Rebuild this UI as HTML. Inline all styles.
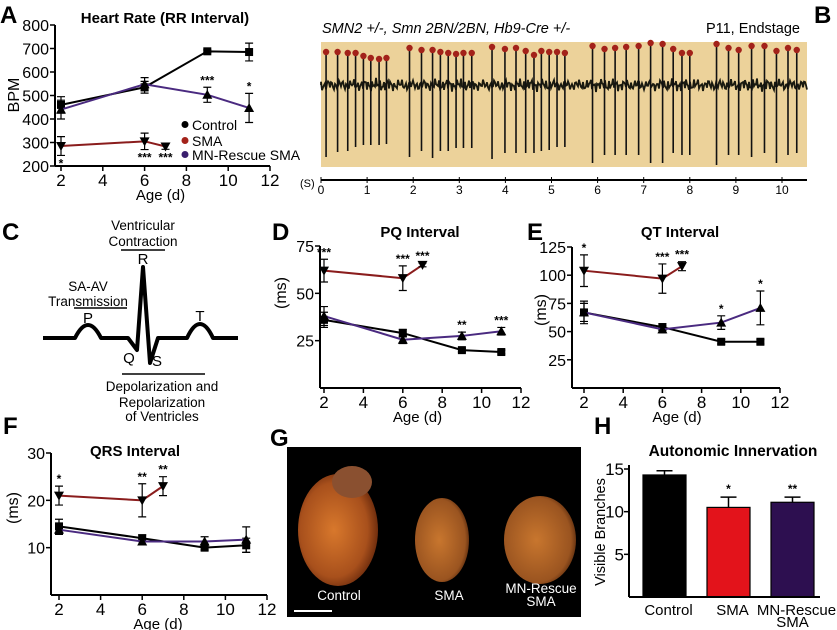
<!DOCTYPE html>
<html><head><meta charset="utf-8"><style>
html,body{margin:0;padding:0;background:#fff;}
svg{display:block;font-family:"Liberation Sans",Arial,sans-serif;}
</style></head><body>
<svg id="fig" width="837" height="630" viewBox="0 0 837 630" xmlns="http://www.w3.org/2000/svg">
<g font-weight="bold" font-size="24">
<text x="0" y="23">A</text>
<text x="814" y="23">B</text>
<text x="2" y="240">C</text>
<text x="272" y="240">D</text>
<text x="527" y="240">E</text>
<text x="3" y="434">F</text>
<text x="270" y="446">G</text>
<text x="594" y="434">H</text>
</g>
<g id="panelB">
<text x="322" y="33" font-size="14.5" font-style="italic">SMN2 +/-, Smn 2BN/2BN, Hb9-Cre +/-</text>
<text x="800" y="33" font-size="14.5" text-anchor="end">P11, Endstage</text>
<rect x="321" y="42" width="486" height="125" fill="#ecd29a"/>
</g>
<g font-size="13.5" text-anchor="middle">
<path d="M43 338 L75 338 Q88 312 101 338 L128 338 L137 350 L143 267 L150 363 L158 338 L187 338 Q200 310 213 338 L238 338" fill="none" stroke="#000" stroke-width="4" stroke-linejoin="round"/>
<text x="143" y="230">Ventricular</text>
<text x="143" y="246">Contraction</text>
<line x1="121" y1="250" x2="165" y2="250" stroke="#000" stroke-width="1.5"/>
<text x="143" y="264" font-size="15">R</text>
<text x="88" y="291">SA-AV</text>
<text x="88" y="306">Transmission</text>
<line x1="74" y1="308" x2="127" y2="308" stroke="#000" stroke-width="1.5"/>
<text x="88" y="323" font-size="15">P</text>
<text x="200" y="321" font-size="15">T</text>
<text x="129" y="363" font-size="15">Q</text>
<text x="157" y="366" font-size="15">S</text>
<line x1="122" y1="374" x2="205" y2="374" stroke="#000" stroke-width="1.5"/>
<text x="162" y="391">Depolarization and</text>
<text x="162" y="407">Repolarization</text>
<text x="162" y="421">of Ventricles</text>
</g>
<defs>
<radialGradient id="heart" cx="0.45" cy="0.5" r="0.6"><stop offset="0" stop-color="#d8782c"/><stop offset="0.7" stop-color="#a8501c"/><stop offset="1" stop-color="#5a2008"/></radialGradient>
<radialGradient id="heart2" cx="0.45" cy="0.5" r="0.6"><stop offset="0" stop-color="#c8762e"/><stop offset="0.8" stop-color="#9a5420"/><stop offset="1" stop-color="#4a2008"/></radialGradient>
</defs>
<g>
<rect x="287" y="447" width="294" height="170" fill="#000"/>
<ellipse cx="338" cy="530" rx="40" ry="56" fill="url(#heart)"/>
<ellipse cx="352" cy="482" rx="20" ry="16" fill="#8a5030"/>
<ellipse cx="442" cy="540" rx="27" ry="42" fill="url(#heart2)"/>
<ellipse cx="540" cy="540" rx="36" ry="44" fill="url(#heart2)"/>
<g fill="#fff" font-size="13.5" text-anchor="middle">
<text x="339" y="600">Control</text>
<text x="449" y="600">SMA</text>
<text x="541" y="593">MN-Rescue</text>
<text x="541" y="606">SMA</text>
</g>
<line x1="294" y1="611" x2="332" y2="611" stroke="#fff" stroke-width="2"/>
</g>
</svg>
<script>
// ===== Panel B data =====
const ecgPeakTimes=[0.11,0.36,0.58,0.75,0.92,1.08,1.26,1.42,1.92,2.18,2.42,2.59,2.76,2.93,3.09,3.27,3.71,3.99,4.23,4.44,4.62,4.78,4.95,5.12,5.29,5.89,6.15,6.38,6.62,6.89,7.15,7.41,7.64,7.83,8.00,8.58,8.84,9.06,9.34,9.62,9.88,10.13,10.32];
const ecgPeakAmps=[33,33,32,32,29,27,26,27,37,35,35,33,32,31,32,32,38,36,37,34,30,34,33,33,32,39,36,37,38,39,42,41,36,32,32,41,37,35,39,39,34,37,35];
const ecgTroughAmps=[-72,-67,-66,-62,-60,-60,-60,-59,-72,-66,-73,-66,-66,-63,-63,-63,-74,-68,-68,-68,-68,-66,-65,-62,-62,-78,-70,-70,-70,-70,-78,-78,-68,-70,-70,-80,-70,-70,-72,-68,-78,-70,-68];
const ecgTimeTicks=[0,1,2,3,4,5,6,7,8,9,10];

// ===== Panel A data =====
const ages=[2,6,9,11];
const smaAges=[2,6,7];
const hrControl=[460,535,688,685], hrControlErr=[35,25,6,38];
const hrRescue=[440,548,503,447], hrRescueErr=[40,28,32,62];
const hrSMA=[285,305,283], hrSMAErr=[40,35,12];
const hrTicks=[200,300,400,500,600,700,800];
// ===== Panel D data =====
const pqControl=[36,29,20,19], pqControlErr=[4,2,1,1];
const pqRescue=[38,25.5,27.5,30], pqRescueErr=[5,2,2,2];
const pqSMA=[62,58,65], pqSMAErr=[6,6.5,1];
const pqTicks=[25,50,75];
// ===== Panel E data =====
const qtControl=[67,54,41,41], qtControlErr=[8,3,2,2];
const qtRescue=[67,52,58,71], qtRescueErr=[10,3,6,15];
const qtSMA=[104,97,108], qtSMAErr=[14,13,4];
const qtTicks=[25,50,75,100,125];
// ===== Panel F data =====
const qrsControl=[14.5,12,10,10.5], qrsControlErr=[1.5,0.7,0.5,1.5];
const qrsRescue=[13.8,11.3,11.3,11.7], qrsRescueErr=[1,0.6,1,2.7];
const qrsSMA=[21,20,23], qrsSMAErr=[2,3.5,2];
const qrsTicks=[10,20,30];
const ageTicks=[2,4,6,8,10,12];
// ===== Panel H data =====
const innervCats=["Control","SMA","MN-Rescue SMA"];
const innervVals=[14.3,10.5,11.1];
const innervErr=[0.5,1.2,0.6];
const innervStars=["","*","**"];
const innervTicks=[5,10,15];

const NS="http://www.w3.org/2000/svg";
const svg=document.getElementById('fig');
function mk(tag,attrs,parent,txt){const e=document.createElementNS(NS,tag);for(const k in attrs)e.setAttribute(k,attrs[k]);if(txt!==undefined)e.textContent=txt;(parent||svg).appendChild(e);return e;}

(function(){
  const g=document.getElementById('panelB');
  const x0=321, pxPerS=46.1, base=85;
  const xs=t=>x0+t*pxPerS;
  const ys=a=>base-a;
  let d="M321 "+base;
  for(let x=321;x<=807;x+=1){
    const w=Math.sin(x*1.7)*3.2+Math.sin(x*0.53)*1.8+Math.cos(x*3.1)*2.2;
    d+=" L"+x.toFixed(1)+" "+(base+w).toFixed(1);
  }
  const noise=mk('path',{d:d,fill:'none',stroke:'#1a1a10','stroke-width':'1.8'},g);
  
  
  ecgPeakTimes.forEach((t,i)=>{
    const sp=mk('path',{d:`M${xs(t)} ${ys(ecgPeakAmps[i])} L${xs(t)} ${ys(ecgTroughAmps[i])}`,stroke:'#111','stroke-width':'1.6'},g);
    
    
    const c=mk('circle',{cx:xs(t),cy:ys(ecgPeakAmps[i]),r:3.2,fill:'#a3221a'},g);
    
    
  });
  const ax=mk('line',{x1:321,y1:180,x2:807,y2:180,stroke:'#000','stroke-width':2},g);
  
  
  ecgTimeTicks.forEach(t=>{
    mk('line',{x1:xs(t),y1:177,x2:xs(t),y2:183,stroke:'#000','stroke-width':1},g);
    const l=mk('text',{x:xs(t),y:194,'font-size':12,'text-anchor':'middle'},g,String(t));
    
    
  });
  const u=mk('text',{x:300,y:187,'font-size':11},g,"(S)");
  
  
})();

function lineChart(c){
  const g=mk('g',{});
  
  
  const xs=v=>c.x2+(v-2)*(c.x12-c.x2)/10;
  const ys=v=>c.yBot-(v-c.yMin)*(c.yBot-c.yTop)/(c.yMax-c.yMin);
  const t=mk('text',{x:c.titleX,y:c.titleY,'font-size':15,'font-weight':'bold','text-anchor':'middle'},g,c.title);
  
  
  const ya=mk('line',{x1:c.ax,y1:ys(c.yMax),x2:c.ax,y2:c.yBot,stroke:'#000','stroke-width':2},g);
  
  
  const xa=mk('line',{x1:c.ax,y1:c.yBot,x2:xs(12),y2:c.yBot,stroke:'#000','stroke-width':2},g);
  
  
  c.yTicks.forEach(v=>{
    mk('line',{x1:c.ax-5,y1:ys(v),x2:c.ax,y2:ys(v),stroke:'#000','stroke-width':1.5},g);
    const l=mk('text',{x:c.ax-6,y:ys(v)+6,'font-size':16,'text-anchor':'end'},g,String(v));
    
    
  });
  ageTicks.forEach(v=>{
    mk('line',{x1:xs(v),y1:c.yBot,x2:xs(v),y2:c.yBot+5,stroke:'#000','stroke-width':1.5},g);
    const l=mk('text',{x:xs(v),y:c.yBot+20,'font-size':17,'text-anchor':'middle'},g,String(v));
    
    
  });
  if(c.xLabel){const l=mk('text',{x:(c.x2+c.x12)/2-5,y:c.yBot+34,'font-size':15,'text-anchor':'middle'},g,"Age (d)");
    
    }
  const yl=mk('text',{x:0,y:0,'font-size':16,'text-anchor':'middle',transform:`translate(${c.ylx},${c.yly}) rotate(-90)`},g,c.yLabel);
  
  
  function series(xv,vals,errs,col,marker,nm,stars,starAbove){
    const p=mk('polyline',{points:xv.map((x,i)=>xs(x)+","+ys(vals[i])).join(" "),fill:'none',stroke:col,'stroke-width':2},g);
    
    
    xv.forEach((x,i)=>{
      const X=xs(x),Y=ys(vals[i]),t=ys(vals[i]+errs[i]),b=ys(vals[i]-errs[i]);
      const e=mk('path',{d:`M${X} ${t} L${X} ${b} M${X-4} ${t} L${X+4} ${t} M${X-4} ${b} L${X+4} ${b}`,stroke:'#000','stroke-width':1.2},g);
      
      
      let m;
      if(marker==='sq') m=mk('rect',{x:X-4,y:Y-4,width:8,height:8,fill:'#000'},g);
      else if(marker==='up') m=mk('path',{d:`M${X} ${Y-5} L${X+5} ${Y+4} L${X-5} ${Y+4}Z`,fill:'#000'},g);
      else m=mk('path',{d:`M${X} ${Y+5} L${X+5} ${Y-4} L${X-5} ${Y-4}Z`,fill:'#000'},g);
      
      
      if(stars&&stars[i]){
        const sy=starAbove&&starAbove[i]===0?b+12:t-3;
        const s=mk('text',{x:X,y:sy,'font-size':12,'font-weight':'bold','text-anchor':'middle'},g,stars[i]);
        
        
      }
    });
  }
  series(ages,c.ctl,c.ctlE,'#000','sq','control');
  series(ages,c.res,c.resE,'#4a2a80','up','mn-rescue',c.resStars);
  series(smaAges,c.sma,c.smaE,'#8a1c1c','down','sma',c.smaStars,c.smaPos);
  return g;
}
lineChart({name:'heart-rate-chart',title:'Heart Rate (RR Interval)',titleX:165,titleY:23,ax:55,x2:61,x12:270,yTop:25,yBot:166,yMin:200,yMax:800,yTicks:hrTicks,yLabel:'BPM',ylx:19,yly:95,xLabel:true,
  ctl:hrControl,ctlE:hrControlErr,res:hrRescue,resE:hrRescueErr,sma:hrSMA,smaE:hrSMAErr,resStars:["","","***","*"],smaStars:["*","***","***"],smaPos:[0,0,0]});
lineChart({name:'pq-interval-chart',title:'PQ Interval',titleX:420,titleY:237,ax:320,x2:324,x12:521,yTop:246,yBot:388,yMin:0,yMax:75,yTicks:pqTicks,yLabel:'(ms)',ylx:286,yly:293,xLabel:true,
  ctl:pqControl,ctlE:pqControlErr,res:pqRescue,resE:pqRescueErr,sma:pqSMA,smaE:pqSMAErr,resStars:["","","**","***"],smaStars:["***","***","***"]});
lineChart({name:'qt-interval-chart',title:'QT Interval',titleX:680,titleY:237,ax:572,x2:584,x12:780,yTop:247,yBot:388,yMin:0,yMax:125,yTicks:qtTicks,yLabel:'(ms)',ylx:546,yly:310,xLabel:true,
  ctl:qtControl,ctlE:qtControlErr,res:qtRescue,resE:qtRescueErr,sma:qtSMA,smaE:qtSMAErr,resStars:["","","*","*"],smaStars:["*","***","***"]});
lineChart({name:'qrs-interval-chart',title:'QRS Interval',titleX:135,titleY:456,ax:51,x2:59,x12:267,yTop:453,yBot:595,yMin:0,yMax:30,yTicks:qrsTicks,yLabel:'(ms)',ylx:18,yly:508,xLabel:true,
  ctl:qrsControl,ctlE:qrsControlErr,res:qrsRescue,resE:qrsRescueErr,sma:qrsSMA,smaE:qrsSMAErr,smaStars:["*","**","**"]});

[["Control","#000",129],["SMA","#a3221a",145],["MN-Rescue SMA","#3a1f6e",159]].forEach(r=>{
  const c=mk('circle',{cx:185,cy:r[2]-4.5,r:3.5,fill:r[1]});
  
  
  const t=mk('text',{x:192,y:r[2]+1,'font-size':14},svg,r[0]);
  
  
});

(function(){
  const g=mk('g',{});
  
  
  const ax=629,yBot=597,yTop=469;
  const ys=v=>yBot-v*(yBot-yTop)/15;
  const barW=43,x0=643,step=64;
  const cols=['#000','#e3131b','#2d0f50'];
  const t=mk('text',{x:733,y:456,'font-size':15.5,'font-weight':'bold','text-anchor':'middle'},g,'Autonomic Innervation');
  
  
  innervCats.forEach((c,i)=>{
    const x=x0+i*step;
    const b=mk('rect',{x:x,y:ys(innervVals[i]),width:barW,height:yBot-ys(innervVals[i]),fill:cols[i],stroke:'#000','stroke-width':1.2},g);
    
    
    const cx=x+barW/2,et=ys(innervVals[i]+innervErr[i]);
    mk('path',{d:`M${cx} ${ys(innervVals[i])} L${cx} ${et} M${cx-8} ${et} L${cx+8} ${et}`,stroke:'#000','stroke-width':1.5},g);
    if(innervStars[i]){const s=mk('text',{x:cx,y:et-4,'font-size':12,'font-weight':'bold','text-anchor':'middle'},g,innervStars[i]);
      
      }
    const parts=c==="MN-Rescue SMA"?["MN-Rescue","SMA"]:[c];
    parts.forEach((p,j)=>{const l=mk('text',{x:cx+(j?0:4),y:615+j*12,'font-size':15,'text-anchor':'middle'},g,p);
      
      });
  });
  const ya=mk('line',{x1:ax,y1:yTop-4,x2:ax,y2:yBot,stroke:'#000','stroke-width':2},g);
  
  
  const xa=mk('line',{x1:ax,y1:yBot,x2:820,y2:yBot,stroke:'#000','stroke-width':2},g);
  
  
  innervTicks.forEach(v=>{
    mk('line',{x1:ax-5,y1:ys(v),x2:ax,y2:ys(v),stroke:'#000','stroke-width':1.5},g);
    const l=mk('text',{x:ax-5,y:ys(v)+6,'font-size':17,'text-anchor':'end'},g,String(v));
    
    
  });
  const yl=mk('text',{x:0,y:0,'font-size':14.5,'text-anchor':'middle',transform:'translate(605,532) rotate(-90)'},g,'Visible Branches');
  
  
})();
</script>
</body></html>
